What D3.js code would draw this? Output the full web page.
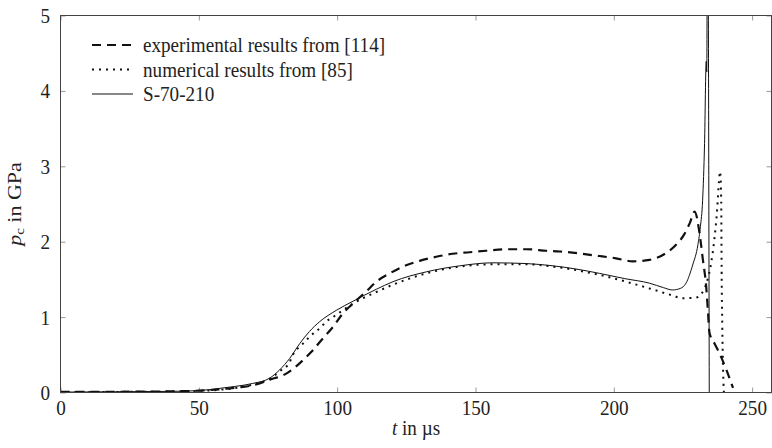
<!DOCTYPE html>
<html>
<head>
<meta charset="utf-8">
<script src="https://cdn.jsdelivr.net/npm/d3@7"></script>
<style>
  body { margin: 0; background: #fff; }
</style>
</head>
<body>
<div id="vis"></div>
<script>
// t in microseconds, p_c in GPa
const tExp = [0, 20, 40, 50, 60, 65, 70, 75.6, 81.6, 86.5, 90.7, 94.9, 98.5, 102.1, 105.7, 110.5, 114.2, 119, 123.8, 129.8, 135.8, 141.8, 147.9, 153.9, 161, 168.4, 175.6, 180.4, 194.8, 200.8, 206.8, 212.9, 218.9, 222.5, 225.5, 227.5, 229.2, 231, 232.2, 233.4, 234, 234.6, 236.4, 238.2, 240.7, 243.1];
const pExp = [0.01, 0.01, 0.015, 0.025, 0.05, 0.07, 0.1, 0.17, 0.25, 0.39, 0.54, 0.72, 0.87, 1.05, 1.18, 1.34, 1.47, 1.58, 1.67, 1.745, 1.80, 1.84, 1.86, 1.88, 1.90, 1.90, 1.88, 1.87, 1.81, 1.78, 1.74, 1.76, 1.85, 1.96, 2.1, 2.25, 2.40, 2.11, 1.76, 1.40, 1.09, 0.79, 0.65, 0.52, 0.30, 0.06];

const tNum = [0, 20, 40, 50, 60, 65, 70, 75.6, 79.2, 82.8, 84, 86.5, 88.3, 90, 92.4, 94.3, 96, 98.5, 102, 105.7, 109.3, 112.8, 120.2, 132.2, 144.3, 156.3, 168.4, 178, 194.8, 212.9, 221, 224.9, 229.8, 231.5, 233.5, 235.2, 236.4, 237.4, 238, 238.4, 238.8, 239, 239.2, 239.5, 239.8];
const pNum = [0.005, 0.008, 0.012, 0.02, 0.045, 0.07, 0.11, 0.18, 0.28, 0.40, 0.50, 0.61, 0.67, 0.74, 0.81, 0.87, 0.94, 1.0, 1.09, 1.18, 1.25, 1.31, 1.43, 1.58, 1.67, 1.70, 1.70, 1.67, 1.56, 1.38, 1.29, 1.25, 1.26, 1.30, 1.45, 1.72, 2.05, 2.45, 2.8, 2.93, 2.6, 1.5, 0.9, 0.3, 0];

const tSim = [0, 20, 40, 50, 57.6, 63, 69.5, 75.6, 79.2, 82.8, 86.5, 90, 93.7, 99.7, 105.7, 114.2, 120.2, 132.2, 144.3, 156.3, 168.4, 178, 186, 194.8, 204, 212.9, 218, 221.2, 224, 226.1, 228.5, 230.4, 231.3, 232.1, 232.8, 233.4, 233.6, 233.9, 234.5];
const pSim = [0.005, 0.01, 0.015, 0.025, 0.055, 0.08, 0.12, 0.19, 0.30, 0.45, 0.65, 0.81, 0.94, 1.09, 1.21, 1.37, 1.47, 1.60, 1.68, 1.72, 1.71, 1.68, 1.64, 1.58, 1.51, 1.45, 1.39, 1.36, 1.38, 1.45, 1.69, 1.96, 2.2, 2.55, 3.3, 4.39, 4.25, 7, 0];

const xTicks = [0, 50, 100, 150, 200, 250];
const yTicks = [0, 1, 2, 3, 4, 5];
const legendLabels = ["experimental results from [114]", "numerical results from [85]", "S-70-210"];

const W = 772, H = 448;
const mLeft = 60.5, mRight = 771.5, mTop = 15.5, mBottom = 392.5;
const serif = "'Liberation Serif'";
const fs = "22px";
const sx = 0.87; // the picture is squeezed a little sideways

const x = d3.scaleLinear().domain([0, 257]).range([mLeft, mRight]);
const y = d3.scaleLinear().domain([0, 5]).range([mBottom, mTop]);

const svg = d3.select("#vis").append("svg")
    .attr("width", W)
    .attr("height", H);

svg.append("defs").append("clipPath").attr("id", "clip")
    .append("rect")
    .attr("x", mLeft).attr("y", mTop)
    .attr("width", mRight - mLeft).attr("height", mBottom - mTop);

// inward ticks on all four sides
const tickLen = 5;
const tickCol = "#999";
function styleTicks(g) {
    g.select(".domain").remove();
    g.selectAll("line").attr("stroke", tickCol);
    g.selectAll("text")
        .style("font-family", serif)
        .style("font-size", fs)
        .attr("fill", "#222")
        .attr("transform", "scale(" + sx + ",1)");
}
svg.append("g")
    .attr("transform", "translate(0," + mBottom + ")")
    .call(d3.axisBottom(x).tickValues(xTicks).tickSize(-tickLen).tickPadding(7).tickFormat(d3.format("d")))
    .call(styleTicks);
svg.append("g")
    .attr("transform", "translate(0," + mTop + ")")
    .call(d3.axisTop(x).tickValues(xTicks).tickSize(-tickLen).tickFormat(""))
    .call(styleTicks);
svg.append("g")
    .attr("transform", "translate(" + mLeft + ",0)")
    .call(d3.axisLeft(y).tickValues(yTicks).tickSize(-tickLen).tickPadding(12).tickFormat(d3.format("d")))
    .call(styleTicks);
svg.append("g")
    .attr("transform", "translate(" + mRight + ",0)")
    .call(d3.axisRight(y).tickValues(yTicks).tickSize(-tickLen).tickFormat(""))
    .call(styleTicks);

const line = d3.line()
    .x(d => x(d[0]))
    .y(d => y(d[1]))
    .curve(d3.curveMonotoneX);

const series = [
    { t: tExp, p: pExp, width: 2.2, dash: "9,6" },
    { t: tNum, p: pNum, width: 2, dash: "2,5" },
    { t: tSim, p: pSim, width: 1, dash: null }
];

const plot = svg.append("g").attr("clip-path", "url(#clip)");
series.forEach(s => {
    plot.append("path")
        .datum(s.t.map((t, i) => [t, s.p[i]]))
        .attr("d", line)
        .attr("fill", "none")
        .attr("stroke", "#111")
        .attr("stroke-width", s.width)
        .attr("stroke-dasharray", s.dash);
});

// frame
svg.append("rect")
    .attr("x", mLeft).attr("y", mTop)
    .attr("width", mRight - mLeft).attr("height", mBottom - mTop)
    .attr("fill", "none")
    .attr("stroke", "#444")
    .attr("stroke-width", 1);

// legend
const leg = svg.append("g");
legendLabels.forEach((lab, i) => {
    const ly = 45 + i * 24.5;
    leg.append("line")
        .attr("x1", 92).attr("x2", 133)
        .attr("y1", ly).attr("y2", ly)
        .attr("stroke", "#111")
        .attr("stroke-width", series[i].width)
        .attr("stroke-dasharray", series[i].dash);
    leg.append("text")
        .attr("transform", "translate(143," + (ly + 7) + ")scale(" + sx + ",1)")
        .style("font-family", serif)
        .style("font-size", fs)
        .attr("fill", "#222")
        .text(lab);
});

// axis labels
const xl = svg.append("text")
    .attr("transform", "translate(" + (mLeft + mRight) / 2 + ",435)scale(" + sx + ",1)")
    .attr("text-anchor", "middle")
    .style("font-family", serif)
    .style("font-size", fs)
    .attr("fill", "#222");
xl.append("tspan").attr("font-style", "italic").text("t");
xl.append("tspan").text(" in µs");

const yl = svg.append("text")
    .attr("transform", "translate(21," + (mTop + mBottom) / 2 + ")scale(" + sx + ",1)rotate(-90)")
    .attr("text-anchor", "middle")
    .style("font-family", serif)
    .style("font-size", fs)
    .attr("fill", "#222");
yl.append("tspan").attr("font-style", "italic").text("p");
yl.append("tspan").style("font-size", "15px").attr("dy", 4).text("c");
yl.append("tspan").attr("dy", -4).text(" in GPa");
</script>
</body>
</html>
